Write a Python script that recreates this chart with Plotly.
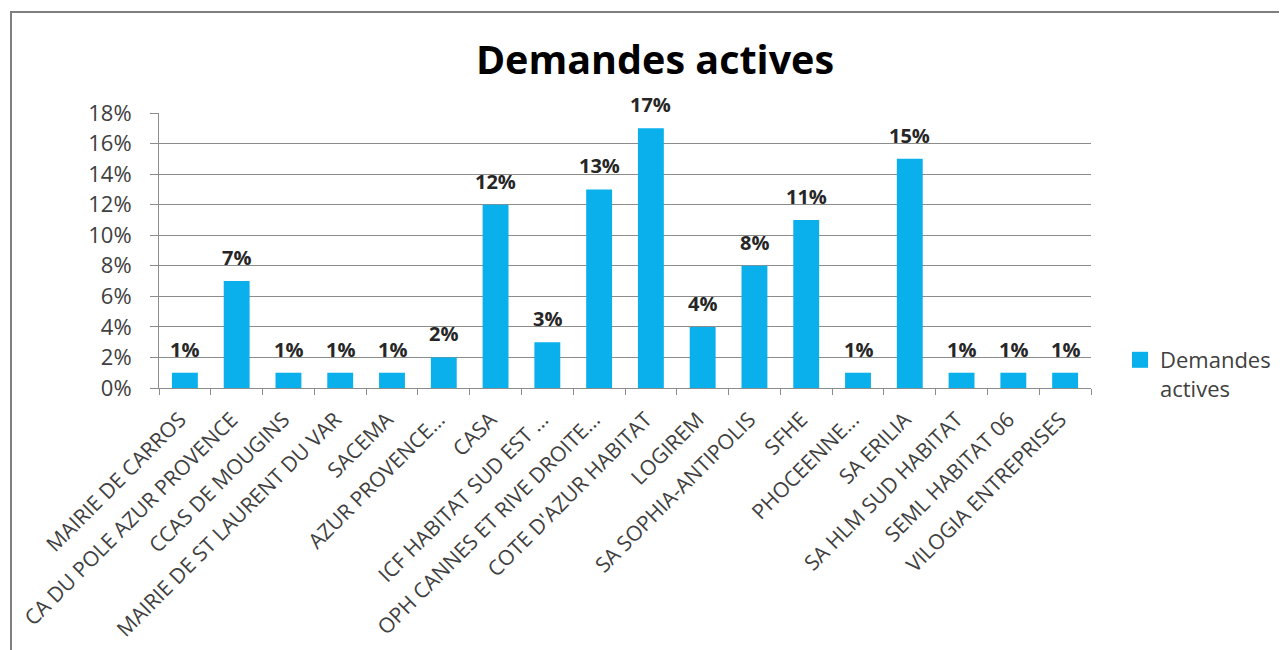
import plotly.graph_objects as go

categories = [
    "MAIRIE DE CARROS", "CA DU POLE AZUR PROVENCE", "CCAS DE MOUGINS",
    "MAIRIE DE ST LAURENT DU VAR", "SACEMA", "AZUR PROVENCE...", "CASA",
    "ICF HABITAT SUD EST ...", "OPH CANNES ET RIVE DROITE...", "COTE D'AZUR HABITAT",
    "LOGIREM", "SA SOPHIA-ANTIPOLIS", "SFHE", "PHOCEENNE...", "SA ERILIA",
    "SA HLM SUD HABITAT", "SEML HABITAT 06", "VILOGIA ENTREPRISES",
]
values = [1, 7, 1, 1, 1, 2, 12, 3, 13, 17, 4, 8, 11, 1, 15, 1, 1, 1]
labels = [f"{v}%" for v in values]
series_name = "Demandes<br>actives"
title = "Demandes actives"
yticks = [0, 2, 4, 6, 8, 10, 12, 14, 16, 18]
yticklabels = [f"{t}%" for t in yticks]

FONT = "Open Sans"
BLUE = "#0AB0EC"
GRID = "#8C8C8C"
W, H = 1279, 642
L, T, B = 151, 105, 262
PW = 932
R = W - L - PW
PH = H - T - B

fig = go.Figure()
fig.add_trace(go.Bar(
    x=categories, y=values, name=series_name,
    marker=dict(color=BLUE, line=dict(width=0)),
    width=0.5, showlegend=False,
))
# legend entry with a bigger square swatch
fig.add_trace(go.Scatter(
    x=[None], y=[None], mode="markers", name=series_name,
    marker=dict(symbol="square", size=16, color=BLUE),
    showlegend=True,
))

for c, v, t in zip(categories, values, labels):
    fig.add_annotation(x=c, y=v, text="<b>" + t + "</b>", showarrow=False,
                       yanchor="bottom", yshift=8,
                       font=dict(family=FONT, size=20, color="#262626"))

fig.update_layout(
    width=W, height=H,
    paper_bgcolor="white", plot_bgcolor="white",
    margin=dict(l=L, r=R, t=T, b=B, autoexpand=False),
    title=dict(text="<b>" + title + "</b>", x=647 / W, xanchor="center",
               xref="container", y=1 - 52 / H, yanchor="middle",
               font=dict(family=FONT, size=39.5, color="black")),
    font=dict(family=FONT, color="#404040"),
    showlegend=True,
    legend=dict(x=(1112 - L) / PW, y=(H - B - 331) / PH, xanchor="left", yanchor="top",
                font=dict(family=FONT, size=22, color="#404040"),
                bgcolor="rgba(0,0,0,0)", tracegroupgap=0, valign="top"),
)
fig.update_xaxes(
    type="category", tickangle=-45,
    tickfont=dict(family=FONT, size=21, color="#404040"),
    showline=True, linecolor=GRID, linewidth=1,
    ticks="outside", tickson="boundaries", ticklen=6, tickcolor=GRID,
    ticklabelstandoff=10, ticklabelshift=-5,
    showgrid=False, automargin=False,
)
fig.update_yaxes(
    range=[0, 18], tickvals=yticks, ticktext=yticklabels,
    tickfont=dict(family=FONT, size=22, color="#404040"),
    showline=True, linecolor=GRID, linewidth=1,
    ticks="outside", ticklen=8, tickcolor=GRID,
    ticklabelstandoff=14,
    showgrid=True, gridcolor=GRID, gridwidth=1,
    zeroline=False, automargin=False,
)
# outer chart border
fig.add_shape(type="rect", xref="paper", yref="paper",
              x0=(3 - L) / PW, x1=(1276 - L) / PW,
              y0=(H - B - 660) / PH, y1=(H - B - 4) / PH,
              line=dict(color="#7F7F7F", width=2), fillcolor="rgba(0,0,0,0)",
              layer="below")

fig.write_html("out.html")
